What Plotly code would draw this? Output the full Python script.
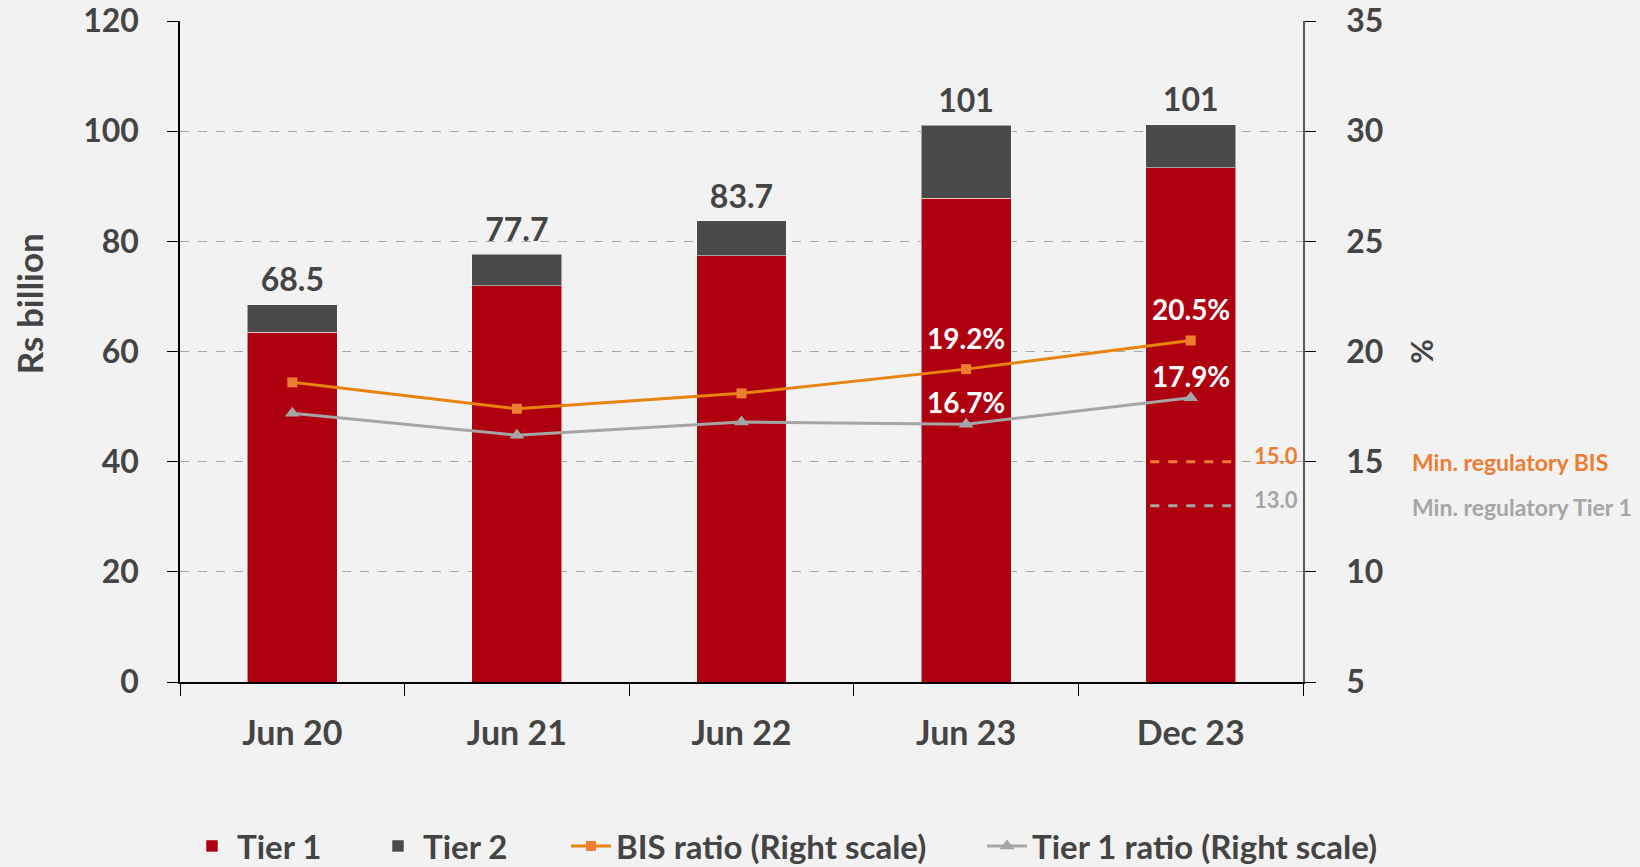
import plotly.graph_objects as go

categories = ["Jun 20", "Jun 21", "Jun 22", "Jun 23", "Dec 23"]
tier1 = [63.5, 71.9, 77.4, 87.8, 93.4]
tier2 = [5.0, 5.8, 6.3, 13.3, 7.8]
total_labels = ["68.5", "77.7", "83.7", "101", "101"]
bis_ratio = [18.6, 17.4, 18.1, 19.2, 20.5]
tier1_ratio = [17.2, 16.2, 16.8, 16.7, 17.9]
bis_labels = ["", "", "", "19.2%", "20.5%"]
tier1_ratio_labels = ["", "", "", "16.7%", "17.9%"]
min_bis = 15.0
min_tier1 = 13.0

FONT = "Lato"
TXT = "#444444"
RED = "#AF0010"
DARK = "#4A4A4A"
ORANGE = "#E8830E"
ORANGE_M = "#ED7D31"
GREY = "#A5A5A5"

totals = [a + b for a, b in zip(tier1, tier2)]

fig = go.Figure()
fig.add_trace(go.Bar(x=categories, y=tier1, name="Tier 1", legend="legend",
                     marker=dict(color=RED, line=dict(color="rgba(255,255,255,0.5)", width=1))))
fig.add_trace(go.Bar(x=categories, y=tier2, name="Tier 2", legend="legend2",
                     marker=dict(color=DARK, line=dict(color="rgba(255,255,255,0.5)", width=1))))
fig.add_trace(go.Scatter(x=categories, y=totals, mode="markers+text", text=total_labels, textposition="top center",
                         marker=dict(size=7, opacity=0),
                         textfont=dict(family=FONT, size=32, color=TXT, weight="bold"), showlegend=False, hoverinfo="skip"))
fig.add_trace(go.Scatter(x=categories, y=bis_ratio, name="BIS ratio (Right scale)", yaxis="y2", mode="lines+markers",
                         legend="legend3",
                         line=dict(color=ORANGE, width=3), marker=dict(symbol="square", size=10, color=ORANGE_M)))
fig.add_trace(go.Scatter(x=categories, y=tier1_ratio, name="Tier 1 ratio (Right scale)", yaxis="y2", mode="lines+markers",
                         legend="legend4",
                         line=dict(color=GREY, width=3), marker=dict(symbol="triangle-up", size=13, color=GREY)))

for cat, val, lab in zip(categories, bis_ratio, bis_labels):
    if lab:
        fig.add_annotation(x=cat, y=val, xref="x", yref="y2", text=lab, showarrow=False, yshift=31,
                           font=dict(family=FONT, size=28, color="white", weight="bold"))
for cat, val, lab in zip(categories, tier1_ratio, tier1_ratio_labels):
    if lab:
        fig.add_annotation(x=cat, y=val, xref="x", yref="y2", text=lab, showarrow=False, yshift=22,
                           font=dict(family=FONT, size=28, color="white", weight="bold"))

last = len(categories) - 1
for val, col in [(min_bis, ORANGE_M), (min_tier1, GREY)]:
    fig.add_shape(type="line", xref="x", yref="y2", x0=last - 0.18, x1=last + 0.18, y0=val, y1=val,
                  line=dict(color=col, width=3, dash="dash"))
fig.add_annotation(x=last + 0.38, y=min_bis, xref="x", yref="y2", text=f"{min_bis:.1f}", showarrow=False,
                   yshift=6, font=dict(family=FONT, size=22, color=ORANGE_M, weight="bold"))
fig.add_annotation(x=last + 0.38, y=min_tier1, xref="x", yref="y2", text=f"{min_tier1:.1f}", showarrow=False,
                   yshift=6, font=dict(family=FONT, size=22, color=GREY, weight="bold"))
fig.add_annotation(x=(1410 - 180) / 1123, y=min_bis, xref="paper", yref="y2", text="Min. regulatory BIS",
                   showarrow=False, xanchor="left", font=dict(family=FONT, size=23, color=ORANGE_M, weight="bold"))
fig.add_annotation(x=(1410 - 180) / 1123, y=min_tier1, xref="paper", yref="y2", text="Min. regulatory Tier 1",
                   showarrow=False, xanchor="left", yshift=-1, font=dict(family=FONT, size=23, color=GREY, weight="bold"))

# left axis title (placed like the original, above centre)
fig.add_annotation(x=(29 - 180) / 1123, y=(682 - 304) / 661.3, xref="paper", yref="paper", text="Rs billion",
                   textangle=-90, showarrow=False, xanchor="center", yanchor="middle",
                   font=dict(family=FONT, size=35, color=TXT, weight="bold"))

legend_font = dict(family=FONT, size=33, color=TXT, weight="bold")
def leg(xc):
    return dict(orientation="h", xref="container", yref="container", x=xc, xanchor="left",
                y=1 - 846 / 867, yanchor="middle", font=legend_font, bgcolor="rgba(0,0,0,0)", itemwidth=40)

fig.update_layout(
    width=1640, height=867,
    barmode="stack", bargap=0.6,
    paper_bgcolor="#F2F2F2", plot_bgcolor="#F2F2F2",
    margin=dict(l=180, r=337, t=21, b=185, autoexpand=False),
    font=dict(family=FONT, color=TXT, weight="bold"),
    xaxis=dict(type="category", tickson="boundaries", ticks="outside", ticklen=12, tickcolor="black",
               range=[-0.5, last + 0.5],
               showline=True, linecolor="black", linewidth=1.5, showgrid=False,
               tickfont=dict(family=FONT, size=34, color=TXT, weight="bold"), ticklabelstandoff=20),
    yaxis=dict(range=[0, 120], dtick=20, ticks="outside", ticklen=11, tickcolor="black",
               showline=True, linecolor="black", linewidth=1.5,
               showgrid=True, gridcolor="#A6A6A6", griddash="dash", gridwidth=1, zeroline=False,
               tickfont=dict(family=FONT, size=32, color=TXT, weight="bold"), ticklabelstandoff=22),
    yaxis2=dict(range=[5, 35], dtick=5, overlaying="y", side="right", ticks="outside", ticklen=11, tickcolor="black",
                showline=True, linecolor="#595959", linewidth=1.5, showgrid=False, zeroline=False,
                tickfont=dict(family=FONT, size=32, color=TXT, weight="bold"), ticklabelstandoff=24,
                title=dict(text="%", font=dict(family=FONT, size=30, color=TXT, weight="bold"), standoff=30)),
    legend=leg(187 / 1640),
    legend2=leg(373 / 1640),
    legend3=leg(566 / 1640),
    legend4=leg(982 / 1640),
    showlegend=True,
)

fig.write_html("out.html", config={"displayModeBar": False},
               post_script="document.body.style.margin='0';document.body.style.overflow='hidden';")
